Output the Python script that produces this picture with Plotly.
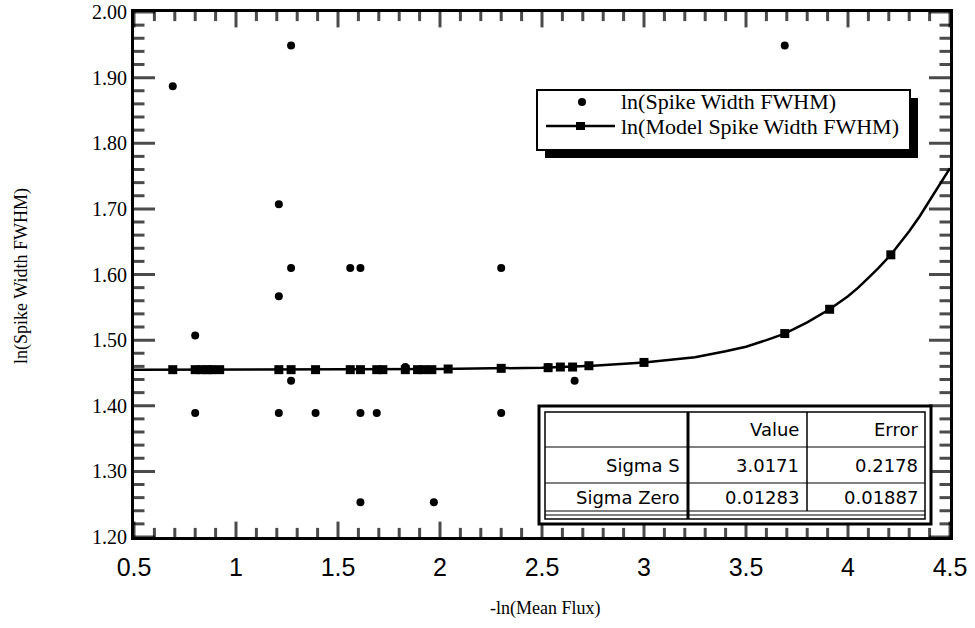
import plotly.graph_objects as go

# Measured spike widths
flux_x = [0.69, 0.80, 0.80, 1.21, 1.21, 1.21, 1.27, 1.27, 1.27, 1.39, 1.56,
          1.61, 1.61, 1.61, 1.69, 1.83, 1.97, 2.30, 2.30, 2.53, 2.66, 3.69]
width_y = [1.887, 1.507, 1.389, 1.707, 1.567, 1.389, 1.949, 1.610, 1.438, 1.389, 1.610,
           1.610, 1.389, 1.253, 1.389, 1.459, 1.253, 1.610, 1.389, 1.459, 1.438, 1.949]

# Model curve
curve_x = [0.5, 1.0, 1.5, 2.0, 2.5, 2.75, 3.0, 3.1, 3.25, 3.4, 3.5, 3.6, 3.69, 3.8, 3.91,
           4.0, 4.05, 4.1, 4.15, 4.21, 4.25, 4.3, 4.35, 4.4, 4.45, 4.5]
curve_y = [1.455, 1.455, 1.455, 1.456, 1.458, 1.461, 1.466, 1.469, 1.474, 1.483, 1.490, 1.500,
           1.510, 1.527, 1.547, 1.567, 1.580, 1.595, 1.610, 1.630, 1.646, 1.666, 1.688, 1.712,
           1.738, 1.762]

# Model evaluated at the sample positions
model_x = [0.69, 0.80, 0.83, 0.86, 0.88, 0.92, 1.21, 1.27, 1.39, 1.56, 1.61, 1.69, 1.72,
           1.83, 1.89, 1.92, 1.96, 2.04, 2.30, 2.53, 2.59, 2.65, 2.73, 3.00, 3.69, 3.91, 4.21]
model_y = [1.455, 1.455, 1.455, 1.455, 1.455, 1.455, 1.455, 1.455, 1.455, 1.455, 1.455, 1.455, 1.455,
           1.455, 1.455, 1.455, 1.455, 1.456, 1.457, 1.458, 1.459, 1.459, 1.461, 1.466, 1.510, 1.547, 1.630]

# Fit parameter table
param_names = ["Sigma S", "Sigma Zero"]
param_values = ["3.0171", "0.01283"]
param_errors = ["0.2178", "0.01887"]

series_names = ["ln(Spike Width FWHM)", "ln(Model Spike Width FWHM)"]
x_title = "-ln(Mean Flux)"
y_title = "ln(Spike Width FWHM)"

# Axis tick positions
x_range = [0.5, 4.5]
y_range = [1.2, 2.0]
x_major = [0.5, 1.0, 1.5, 2.0, 2.5, 3.0, 3.5, 4.0, 4.5]
x_labels = ["0.5", "1", "1.5", "2", "2.5", "3", "3.5", "4", "4.5"]
y_major = [1.2, 1.3, 1.4, 1.5, 1.6, 1.7, 1.8, 1.9, 2.0]
x_minor = [round(0.5 + 0.1 * i, 2) for i in range(41)]
y_minor = [round(1.2 + 0.02 * i, 2) for i in range(41)]

SERIF = "Liberation Serif, Times New Roman, serif"
SANS = "Liberation Sans, Arial, sans-serif"
TABLE_FONT = "DejaVu Sans, sans-serif"

W, H = 975, 628
L, R, T, B = 134, 950, 12, 537
NBSP = "\u00a0"


def px(xp):
    return (xp - L) / (R - L)


def py(yp):
    return (B - yp) / (B - T)


fig = go.Figure()

# Inward tick marks: centred line markers on each frame edge, half hidden by clipping
x_sizes = [22 if v in x_major else 13 for v in x_minor]
y_sizes = [30 if v in y_major else 15 for v in y_minor]
for edge in y_range:
    fig.add_trace(go.Scatter(
        x=x_minor, y=[edge] * len(x_minor), mode="markers", cliponaxis=True,
        showlegend=False, hoverinfo="skip",
        marker=dict(symbol="line-ns", size=x_sizes, color="black",
                    line=dict(color="black", width=3))))
for edge in x_range:
    fig.add_trace(go.Scatter(
        x=[edge] * len(y_minor), y=y_minor, mode="markers", cliponaxis=True,
        showlegend=False, hoverinfo="skip",
        marker=dict(symbol="line-ew", size=y_sizes, color="black",
                    line=dict(color="black", width=3))))

fig.add_trace(go.Scatter(
    x=curve_x, y=curve_y, mode="lines", showlegend=False, name=series_names[1],
    line=dict(color="black", width=2.5), hoverinfo="skip"))
fig.add_trace(go.Scatter(
    x=model_x, y=model_y, mode="markers", showlegend=False, name=series_names[1],
    marker=dict(symbol="square", size=9, color="black")))
fig.add_trace(go.Scatter(
    x=flux_x, y=width_y, mode="markers", showlegend=False, name=series_names[0],
    marker=dict(symbol="circle", size=8, color="black")))

shapes = []


def rect(x0, y0, x1, y1, fill=None, w=0):
    shapes.append(dict(type="rect", xref="paper", yref="paper",
                       x0=px(x0), x1=px(x1), y0=py(y1), y1=py(y0),
                       fillcolor=fill if fill else "rgba(0,0,0,0)",
                       line=dict(color="black", width=w), layer="above"))


def hline(y, x0, x1, w):
    shapes.append(dict(type="line", xref="paper", yref="paper",
                       x0=px(x0), x1=px(x1), y0=py(y), y1=py(y),
                       line=dict(color="black", width=w), layer="above"))


def vline(x, y0, y1, w):
    shapes.append(dict(type="line", xref="paper", yref="paper",
                       x0=px(x), x1=px(x), y0=py(y0), y1=py(y1),
                       line=dict(color="black", width=w), layer="above"))


annotations = []

# Axis titles
annotations.append(dict(x=px(545), y=py(608), text=x_title, xanchor="center",
                        yanchor="middle", font=dict(family=SERIF, size=18, color="black")))
annotations.append(dict(x=px(21), y=py(276), text=y_title, textangle=-90,
                        xanchor="center", yanchor="middle",
                        font=dict(family=SERIF, size=18, color="black")))

# Legend box with drop shadow
rect(545, 98, 918, 158, fill="black")
rect(537, 90, 910, 150, fill="white", w=2)
shapes.append(dict(type="circle", xref="paper", yref="paper",
                   x0=px(578), x1=px(586), y0=py(106), y1=py(98),
                   fillcolor="black", line=dict(color="black", width=0), layer="above"))
hline(126, 546, 615, 2.5)
rect(576, 122, 585, 130, fill="black")
for i, name in enumerate(series_names):
    annotations.append(dict(x=px(619), y=py(102 + 24 * i), text=name,
                            xanchor="left", yanchor="middle",
                            font=dict(family=SERIF, size=22, color="black")))

# Parameter table
rect(539, 406, 931, 524, fill="white", w=3)
rect(545, 412, 925, 519, w=1.5)
hline(447, 545, 925, 1)
hline(483, 545, 925, 1)
hline(511, 545, 925, 1)
hline(515, 545, 925, 1)
vline(688, 412, 519, 3)
vline(807, 412, 511, 1.5)

col_right = [682, 801, 920]
row_mid = [429, 465, 497]
cells = [(1, 0, "Value"), (2, 0, "Error")]
for i, name in enumerate(param_names):
    cells += [(0, i + 1, name), (1, i + 1, param_values[i]), (2, i + 1, param_errors[i])]
for c, r, text in cells:
    annotations.append(dict(x=px(col_right[c]), y=py(row_mid[r]), text=text,
                            xanchor="right", yanchor="middle",
                            font=dict(family=TABLE_FONT, size=18, color="black")))

for a in annotations:
    a.update(xref="paper", yref="paper", showarrow=False)

fig.update_layout(
    width=W, height=H,
    margin=dict(l=L, r=W - R, t=T, b=H - B, autoexpand=False),
    paper_bgcolor="white", plot_bgcolor="white",
    shapes=shapes, annotations=annotations, showlegend=False,
    xaxis=dict(range=x_range, tickvals=x_major, ticktext=x_labels, ticks="",
               showline=True, linecolor="black", linewidth=3, mirror=True,
               showgrid=False, zeroline=False, ticklabelstandoff=6,
               tickfont=dict(family=SANS, size=25, color="black"),
               automargin=False),
    yaxis=dict(range=y_range, tickvals=y_major, tickformat=".2f",
               ticksuffix=NBSP * 4, ticks="",
               showline=True, linecolor="black", linewidth=3, mirror=True,
               showgrid=False, zeroline=False,
               tickfont=dict(family=SERIF, size=20, color="black"),
               automargin=False),
)

fig.write_html("out.html")
